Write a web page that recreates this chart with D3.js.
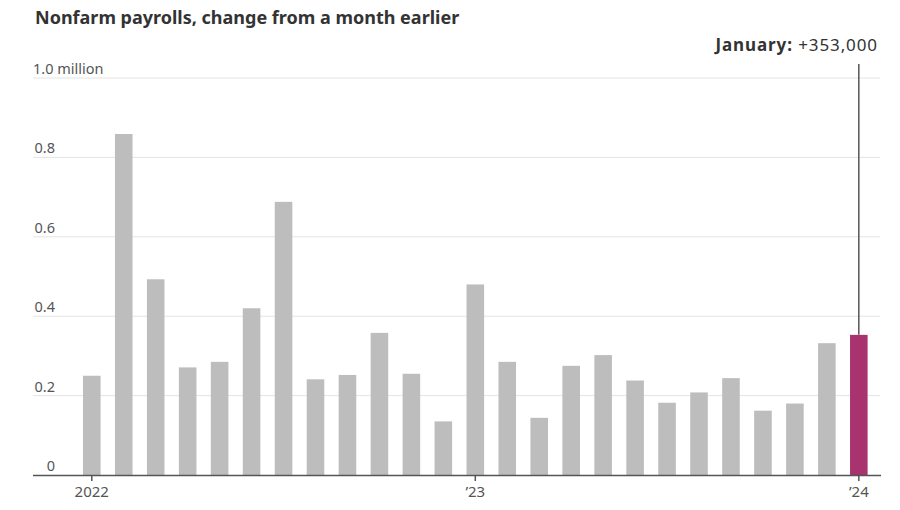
<!DOCTYPE html>
<html>
<head>
<meta charset="utf-8">
<script src="https://cdn.jsdelivr.net/npm/d3@7"></script>
<style>
  html, body { margin: 0; padding: 0; background: #fff; }
  svg { display: block; font-family: "Noto Sans", "DejaVu Sans", sans-serif; }
</style>
</head>
<body>
<svg id="chart" width="900" height="510"></svg>
<script>
// ---- Data ----
const months = ["2022-01","2022-02","2022-03","2022-04","2022-05","2022-06","2022-07","2022-08","2022-09","2022-10","2022-11","2022-12",
                "2023-01","2023-02","2023-03","2023-04","2023-05","2023-06","2023-07","2023-08","2023-09","2023-10","2023-11","2023-12",
                "2024-01"];
// change in nonfarm payrolls, millions
const values = [0.250, 0.859, 0.493, 0.271, 0.285, 0.420, 0.688, 0.241, 0.252, 0.358, 0.255, 0.135,
                0.480, 0.285, 0.144, 0.275, 0.302, 0.238, 0.182, 0.208, 0.244, 0.162, 0.180, 0.332,
                0.353];
const yTicks = [0, 0.2, 0.4, 0.6, 0.8, 1.0];
const yTickLabels = ["0", "0.2", "0.4", "0.6", "0.8", "1.0"];
const xTickMonths = ["2022-01", "2023-01", "2024-01"];
const xTickLabels = ["2022", "\u201923", "\u201924"];
const title = "Nonfarm payrolls, change from a month earlier";
const annoLabel = "January:";
const annoValue = " +353,000";
const highlightMonth = "2024-01";

// ---- Layout ----
const svg = d3.select("#chart");
const plotLeft = 33, plotRight = 881, plotTop = 78, plotBottom = 475;

const x = d3.scaleBand()
  .domain(months)
  .range([75.8, 874.8])
  .paddingInner(0.45)
  .paddingOuter(0.225);

const y = d3.scaleLinear().domain([0, 1]).range([plotBottom, plotTop]);

// Title
svg.append("text")
  .attr("x", 35).attr("y", 24)
  .attr("font-size", 18).attr("font-weight", 700)
  .attr("fill", "#333")
  .text(title);

// Gridlines
svg.append("g").selectAll("line")
  .data(yTicks.filter(d => d > 0))
  .join("line")
  .attr("x1", plotLeft).attr("x2", plotRight - 1)
  .attr("y1", d => y(d)).attr("y2", d => y(d))
  .attr("stroke", "#e4e4e4").attr("stroke-width", 1);

// Y labels
const yl = svg.append("g").attr("font-size", 14.5).attr("fill", "#555");
yTicks.forEach((t, i) => {
  if (t === 1.0) {
    const g = yl.append("text")
      .attr("x", 33).attr("y", y(t) - 4);
    g.append("tspan").text(yTickLabels[i]);
    g.append("tspan").text(" million");
  } else {
    yl.append("text")
      .attr("x", 55).attr("y", y(t) - 4)
      .attr("text-anchor", "end")
      .text(yTickLabels[i]);
  }
});

// Annotation line
const hx = x(highlightMonth) + x.bandwidth() / 2;
svg.append("line")
  .attr("x1", hx).attr("x2", hx)
  .attr("y1", 64).attr("y2", y(values[months.indexOf(highlightMonth)]))
  .attr("stroke", "#555").attr("stroke-width", 1.5);

// Bars
svg.append("g").selectAll("rect")
  .data(months.map((m, i) => ({ m, v: values[i] })))
  .join("rect")
  .attr("x", d => x(d.m))
  .attr("width", x.bandwidth())
  .attr("y", d => y(d.v))
  .attr("height", d => y(0) - y(d.v))
  .attr("fill", d => d.m === highlightMonth ? "#a8336f" : "#bdbdbd");

// X axis
const xAxis = d3.axisBottom(x)
  .tickValues(xTickMonths)
  .tickFormat(d => xTickLabels[xTickMonths.indexOf(d)])
  .tickSize(6)
  .tickSizeOuter(0);
const gx = svg.append("g").attr("transform", `translate(0,${plotBottom})`).call(xAxis);
gx.select(".domain").attr("d", `M${plotLeft},0.5H${plotRight}`).attr("stroke", "#555").attr("stroke-width", 1.5);
gx.selectAll(".tick line").attr("stroke", "#555").attr("stroke-width", 1.5);
gx.selectAll(".tick text")
  .attr("font-size", 15).attr("fill", "#555")
  .attr("font-family", "\"Noto Sans\", sans-serif")
  .attr("dy", 0).attr("y", 22);

// Annotation text
const at = svg.append("text")
  .attr("x", 878).attr("y", 51)
  .attr("text-anchor", "end")
  .attr("font-size", 17).attr("letter-spacing", 0.9).attr("fill", "#333");
at.append("tspan").attr("font-weight", 700).text(annoLabel);
at.append("tspan").text(annoValue);
</script>
</body>
</html>
